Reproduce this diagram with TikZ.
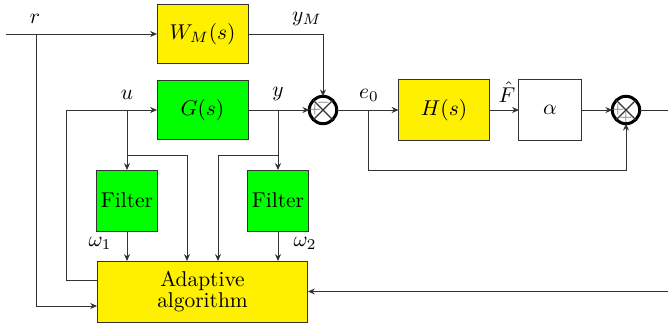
\documentclass[tikz,border=0pt]{standalone}
\usetikzlibrary{arrows.meta,calc}
\definecolor{yel}{RGB}{255,240,0}
\definecolor{grn}{RGB}{0,255,0}
\begin{document}
\begin{tikzpicture}[x=0.467pt,y=-0.467pt,
  line width=0.45pt, draw=black!80,
  >={Stealth[length=3.2pt,width=2.8pt]},
  blk/.style={draw=black!80,rectangle,inner sep=0pt,outer sep=0pt,font=\normalsize},
  sumnode/.style={draw=black,circle,line width=1.4pt,minimum size=12.8pt,inner sep=0pt,outer sep=0pt},
  sgn/.style={text=black!55,font=\scriptsize,inner sep=0pt},
  lbl/.style={inner sep=0pt,font=\normalsize}]
\useasboundingbox (0,0) rectangle (668,324);
% blocks
\node[blk,fill=yel,minimum width=42.5pt,minimum height=28pt] (wm) at (202.5,34) {$W_M(s)$};
\node[blk,fill=grn,minimum width=42.5pt,minimum height=28pt] (g) at (202.5,110) {$G(s)$};
\node[blk,fill=grn,minimum width=28.5pt,minimum height=28.5pt] (f1) at (127,200.5) {Filter};
\node[blk,fill=grn,minimum width=28.5pt,minimum height=28.5pt] (f2) at (278,200.5) {Filter};
\node[blk,fill=yel,minimum width=98.5pt,minimum height=28.5pt,align=center] (ad) at (202.5,291.5) {Adaptive\\[-2pt]algorithm};
\node[blk,fill=yel,minimum width=42.5pt,minimum height=28.5pt] (h) at (444,110) {$H(s)$};
\node[blk,fill=white,minimum width=29pt,minimum height=28.5pt] (al) at (550,110) {$\alpha$};
% summing junctions
\node[sumnode] (s1) at (323,110) {};
\draw[line width=0.5pt] (s1.north west) -- (s1.south east) (s1.north east) -- (s1.south west);
\node[sgn] at ($(s1.center)+(-8,0)$) {$+$};
\node[sgn] at ($(s1.center)+(0,-7.5)$) {$-$};
\node[sumnode] (s2) at (626,110) {};
\draw[line width=0.5pt] (s2.north west) -- (s2.south east) (s2.north east) -- (s2.south west);
\node[sgn] at ($(s2.center)+(-8,0)$) {$+$};
\node[sgn] at ($(s2.center)+(0,7.5)$) {$+$};
% coordinates
\coordinate (rin) at (6,34);
\coordinate (rj) at (36,34);
\coordinate (uj) at (127,110);
\coordinate (ub) at (127,155);
\coordinate (yj) at (278,110);
\coordinate (yb) at (278,155);
\coordinate (ej) at (368,110);
\coordinate (eb) at (368,170);
\coordinate (ul) at (66,110);
\coordinate (outR) at (668,110);
\coordinate (fbR) at (668,291.5);
% labels
\node[lbl] at (35,19) {$r$};
\node[lbl] at (307,19) {$y_M$};
\node[lbl] at (127,95) {$u$};
\node[lbl] at (278,94) {$y$};
\node[lbl] at (369,95) {$e_0$};
\node[lbl] at (507,92) {$\hat{F}$};
\node[lbl] at (100,243) {$\omega_1$};
\node[lbl] at (305,243) {$\omega_2$};
% connectors
\draw[->] (rin) -- (wm.west);
\draw[->] (rj) |- ($(ad.west)+(0,14.5)$);
\draw[->] (wm.east) -| (s1.north);
\draw[->] (g.east) -- (s1.west);
\draw[->] ($(ad.west)+(0,-11.5)$) -| (ul) -- (g.west);
\draw[->] (uj) -- (f1.north);
\draw[->] (ub) -| (ad.north -| 187,0);
\draw[->] (yj) -- (f2.north);
\draw[->] (yb) -| (ad.north -| 218,0);
\draw[->] (f1.south) -- (ad.north -| f1.south);
\draw[->] (f2.south) -- (ad.north -| f2.south);
\draw[->] (s1.east) -- (h.west);
\draw[->] (ej) -- (eb) -| (s2.south);
\draw[->] (h.east) -- (al.west);
\draw[->] (al.east) -- (s2.west);
\draw (s2.east) -- (outR);
\draw[->] (fbR) -- (ad.east);
\end{tikzpicture}
\end{document}
